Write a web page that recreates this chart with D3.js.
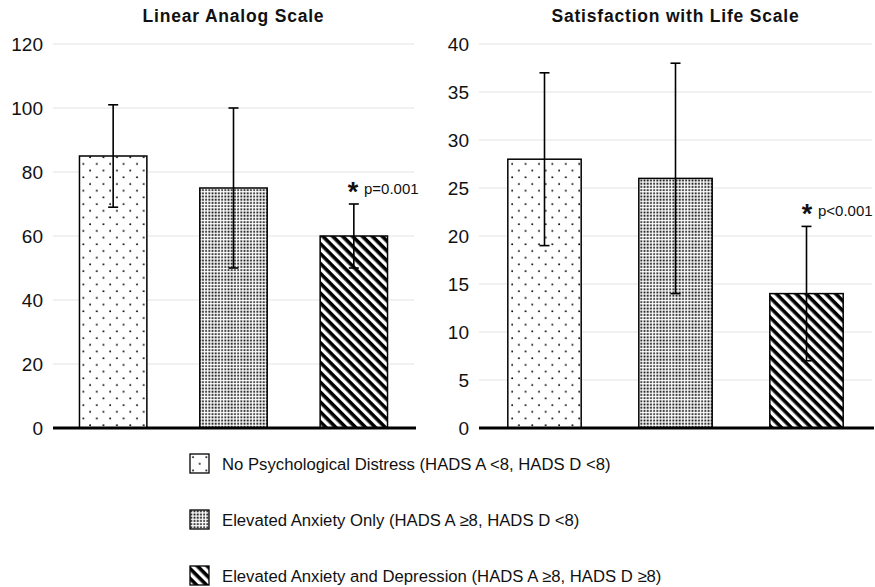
<!DOCTYPE html>
<html>
<head>
<meta charset="utf-8">
<script src="https://cdn.jsdelivr.net/npm/d3@7"></script>
<style>
  body { margin: 0; background: #fff; }
  svg { display: block; font-family: "Liberation Sans", Arial, sans-serif; }
</style>
</head>
<body>
<svg id="chart" width="875" height="587"></svg>
<script>
// Datos
const groups = ["none", "anxiety", "both"];
const legendLabels = [
  "No Psychological Distress (HADS A <8, HADS D <8)",
  "Elevated Anxiety Only (HADS A \u22658, HADS D <8)",
  "Elevated Anxiety and Depression (HADS A \u22658, HADS D \u22658)"
];

const lasMeans = [85, 75, 60];
const lasLow = [69, 50, 50];
const lasHigh = [101, 100, 70];
const lasTicks = [0, 20, 40, 60, 80, 100, 120];

const swlsMeans = [28, 26, 14];
const swlsLow = [19, 14, 7];
const swlsHigh = [37, 38, 21];
const swlsTicks = [0, 5, 10, 15, 20, 25, 30, 35, 40];

const svg = d3.select("#chart");

// Patrones de relleno
const defs = svg.append("defs");

const pDots = defs.append("pattern")
  .attr("id", "pat-none")
  .attr("patternUnits", "userSpaceOnUse")
  .attr("width", 13.4).attr("height", 13.4);
pDots.append("rect").attr("width", 13.4).attr("height", 13.4).attr("fill", "#fff");
pDots.append("circle").attr("cx", 3).attr("cy", 3).attr("r", 0.95).attr("fill", "#000");
pDots.append("circle").attr("cx", 9.7).attr("cy", 9.7).attr("r", 0.95).attr("fill", "#000");

const pDense = defs.append("pattern")
  .attr("id", "pat-anxiety")
  .attr("patternUnits", "userSpaceOnUse")
  .attr("width", 3.2).attr("height", 3.2);
pDense.append("rect").attr("width", 3.2).attr("height", 3.2).attr("fill", "#fff");
pDense.append("rect").attr("x", 0.4).attr("y", 0.4).attr("width", 1.8).attr("height", 1.8).attr("fill", "#111");

const pStripe = defs.append("pattern")
  .attr("id", "pat-both")
  .attr("patternUnits", "userSpaceOnUse")
  .attr("width", 7).attr("height", 7)
  .attr("patternTransform", "rotate(45)");
pStripe.append("rect").attr("width", 7).attr("height", 7).attr("fill", "#fff");
pStripe.append("rect").attr("width", 7).attr("height", 3.6).attr("fill", "#000");

// Un panel con barras y barras de error
function drawPanel(opts) {
  const { title, means, low, high, ticks, yMax, x0, x1, note, noteX } = opts;

  const x = d3.scaleBand()
    .domain(groups)
    .range([x0, x1])
    .paddingInner(0.44)
    .paddingOuter(0.22);

  const y = d3.scaleLinear()
    .domain([0, yMax])
    .range([428, 44]);

  const g = svg.append("g");

  // líneas de grilla
  g.selectAll(".grid")
    .data(ticks.filter(t => t > 0))
    .enter()
    .append("line")
    .attr("x1", x0).attr("x2", x1)
    .attr("y1", d => y(d)).attr("y2", d => y(d))
    .attr("stroke", "#e3e3e3")
    .attr("stroke-width", 1.2);

  // eje y
  const axis = g.append("g")
    .attr("transform", `translate(${x0 - 10},0)`)
    .call(d3.axisLeft(y).tickValues(ticks).tickSize(0).tickPadding(0));
  axis.select(".domain").remove();
  axis.selectAll("text")
    .attr("font-size", 19)
    .attr("fill", "#111")
    .attr("font-family", "Liberation Sans, Arial, sans-serif");

  // barras
  g.selectAll(".bar")
    .data(groups)
    .enter()
    .append("rect")
    .attr("x", d => x(d))
    .attr("width", x.bandwidth())
    .attr("y", (d, i) => y(means[i]))
    .attr("height", (d, i) => y(0) - y(means[i]))
    .attr("fill", d => `url(#pat-${d})`)
    .attr("stroke", "#000")
    .attr("stroke-width", 1.5);

  // barras de error
  const cx = d => x(d) + x.bandwidth() / 2;
  g.selectAll(".err")
    .data(groups)
    .enter()
    .append("line")
    .attr("x1", cx).attr("x2", cx)
    .attr("y1", (d, i) => y(low[i]))
    .attr("y2", (d, i) => y(high[i]))
    .attr("stroke", "#000").attr("stroke-width", 1.6);
  [low, high].forEach(arr => {
    g.selectAll(null)
      .data(groups)
      .enter()
      .append("line")
      .attr("x1", d => cx(d) - 5).attr("x2", d => cx(d) + 5)
      .attr("y1", (d, i) => y(arr[i])).attr("y2", (d, i) => y(arr[i]))
      .attr("stroke", "#000").attr("stroke-width", 1.6);
  });

  // eje x (línea base gruesa)
  g.append("line")
    .attr("x1", x0).attr("x2", x1 + 2)
    .attr("y1", y(0)).attr("y2", y(0))
    .attr("stroke", "#000")
    .attr("stroke-width", 3);

  // título
  g.append("text")
    .attr("x", (x0 + x1) / 2)
    .attr("y", 22)
    .attr("text-anchor", "middle")
    .attr("font-size", 17.5)
    .attr("font-weight", "bold")
    .attr("letter-spacing", 0.8)
    .attr("fill", "#111")
    .text(title);

  // anotación de significancia
  const topY = y(high[2]);
  g.append("text")
    .attr("x", noteX)
    .attr("y", topY - 3)
    .attr("text-anchor", "middle")
    .attr("font-size", 27)
    .attr("font-weight", "bold")
    .attr("fill", "#111")
    .text("*");
  g.append("text")
    .attr("x", noteX + 11)
    .attr("y", topY - 10)
    .attr("font-size", 15)
    .attr("fill", "#111")
    .text(note);
}

drawPanel({
  title: "Linear Analog Scale",
  means: lasMeans, low: lasLow, high: lasHigh,
  ticks: lasTicks, yMax: 120,
  x0: 53, x1: 414,
  note: "p=0.001", noteX: 353
});

drawPanel({
  title: "Satisfaction with Life Scale",
  means: swlsMeans, low: swlsLow, high: swlsHigh,
  ticks: swlsTicks, yMax: 40,
  x0: 479, x1: 872,
  note: "p<0.001", noteX: 807
});

// Leyenda
const legend = svg.append("g");
const rows = legend.selectAll(".row")
  .data(groups)
  .enter()
  .append("g")
  .attr("transform", (d, i) => `translate(190,${454 + i * 56})`);

rows.append("rect")
  .attr("width", 19).attr("height", 19)
  .attr("fill", d => `url(#pat-${d})`)
  .attr("stroke", "#000")
  .attr("stroke-width", 1.3);

rows.append("text")
  .attr("x", 32)
  .attr("y", 16)
  .attr("font-size", 16.7)
  .attr("fill", "#111")
  .text((d, i) => legendLabels[i]);
</script>
</body>
</html>
